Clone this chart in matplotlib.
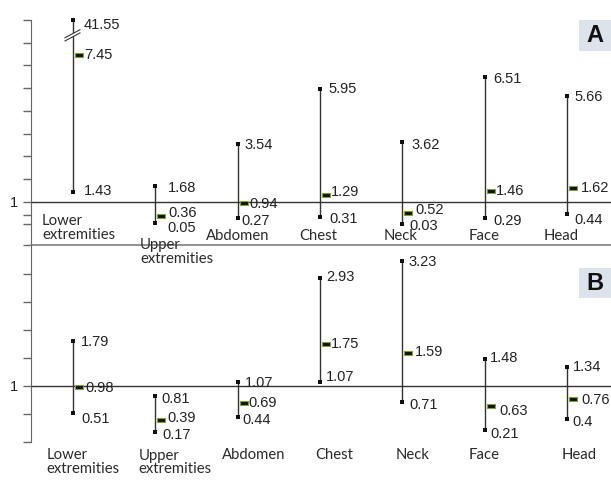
import matplotlib
matplotlib.use('Agg')
import matplotlib.pyplot as plt
import matplotlib.transforms as mtransforms
from matplotlib.path import Path
from matplotlib.patches import Polygon, Rectangle
from matplotlib.lines import Line2D
import numpy as np

regions = ['Lower\nextremities', 'Upper\nextremities', 'Abdomen', 'Chest', 'Neck', 'Face', 'Head']

# panel A: lower limit, median, upper limit
a_low = [1.43, 0.05, 0.27, 0.31, 0.03, 0.29, 0.44]
a_med = [7.45, 0.36, 0.94, 1.29, 0.52, 1.46, 1.62]
a_high = [41.55, 1.68, 3.54, 5.95, 3.62, 6.51, 5.66]

# panel B
b_low = [0.51, 0.17, 0.44, 1.07, 0.71, 0.21, 0.4]
b_med = [0.98, 0.39, 0.69, 1.75, 1.59, 0.63, 0.76]
b_high = [1.79, 0.81, 1.07, 2.93, 3.23, 1.48, 1.34]

# label nudges (dx, dy) in pixels, dy positive = down
nudge_a = {
    'high': [(11, 5), (12.7, 1.7), (7, 1.3), (9, 0), (9.3, 2.7), (9, 2), (8, 1)],
    'med': [(11, 0), (12.7, -3), (11.7, 1), (11, -3.3), (13, -2.7), (11, 0), (14, 0)],
    'low': [(11, -1), (11.7, 4.3), (4, 3), (9.7, 1.3), (7, 2.3), (9, 3.3), (8, 5.3)],
}
nudge_b = {
    'high': [(8, 0.7), (6, 2.6), (7, 1.3), (6, -0.7), (6.7, 1.7), (5.6, -0.7), (5.6, 0.7)],
    'med': [(12, 1), (12, -2), (11, 0), (11, 0), (12.7, -1), (15, 5), (14.3, 0.7)],
    'low': [(8, 5.7), (7, 2.7), (5, 3.4), (6, -5), (6.7, 3.3), (5.6, 4), (5.6, 2.7)],
}

# category label spots in pixels (x, y, ha)
cat_a = [(42, 228, 'left'), (140, 251.7, 'left'), (237.8, 236.5, 'center'), (318, 236.5, 'center'),
         (401, 236.5, 'center'), (484.5, 236.5, 'center'), (561, 236.5, 'center')]
cat_b = [(46.7, 462, 'left'), (138.3, 462.5, 'left'), (254, 455, 'center'), (334.5, 455, 'center'),
         (413, 455, 'center'), (484.5, 455, 'center'), (579, 455, 'center')]

W, H = 611, 493
NUMFONT = 'Liberation Sans'
CATFONT = 'Lato'
GREEN = '#7f9f38'
CAP_TOP = 9.0

fig = plt.figure(figsize=(W / 100, H / 100), dpi=100)
x0 = 31
axA = fig.add_axes([x0 / W, 1 - 245 / H, 1 - x0 / W, 225 / H])
axB = fig.add_axes([x0 / W, 1 - 441.7 / H, 1 - x0 / W, 196.7 / H])

# median marker: small bar sitting just right of the whisker
med_marker = Path([(0.15, -0.24), (1.0, -0.24), (1.0, 0.24), (0.15, 0.24), (0.15, -0.24)],
                  [Path.MOVETO, Path.LINETO, Path.LINETO, Path.LINETO, Path.CLOSEPOLY])

x = np.arange(len(regions))
xl = -(73 - 31) / 82.3

for ax in (axA, axB):
    ax.set_xlim(xl, xl + 580 / 82.3)
    ax.set_xticks([])
    ax.spines['top'].set_visible(False)
    ax.spines['right'].set_visible(False)
    ax.spines['left'].set_color('#666666')
    ax.tick_params(axis='y', direction='out', length=5.8, width=1, color='#666666',
                   pad=3.6, labelsize=10.5, labelcolor='#222222')
    ax.axhline(1, color='#333333', lw=1, zorder=1)
    ax.patch.set_visible(False)

axA.set_ylim(-0.907, CAP_TOP)
axA.set_yticks([-0.907, 0, 0.4] + list(range(1, 10)))
axA.set_yticklabels(['', '', '', '1'] + [''] * 8, family=NUMFONT)
axA.spines['bottom'].set_color('#888888')
axA.spines['bottom'].set_linewidth(1.3)

axB.set_ylim(0, 3.51)
axB.set_yticks(np.arange(0, 3.01, 0.5))
axB.set_yticklabels(['', '', '1', '', '', '', ''], family=NUMFONT)
axB.spines['bottom'].set_visible(False)


def draw_panel(ax, low, med, high, nudge):
    top = np.minimum(high, CAP_TOP)
    ax.vlines(x, low, top, color='#333333', lw=1, zorder=2)
    ax.plot(x, low, 's', ms=2.6, mew=0, color='#111111', zorder=3, clip_on=False)
    ax.plot(x, top, 's', ms=2.6, mew=0, color='#111111', zorder=3, clip_on=False)
    ax.plot(x, med, ls='none', marker=med_marker, ms=15, mfc='#111111', mec=GREEN,
            mew=0.8, zorder=4, clip_on=False)
    for key, vals, ys in (('high', high, top), ('med', med, med), ('low', low, low)):
        for i, (v, yv) in enumerate(zip(vals, ys)):
            dx, dy = nudge[key][i]
            ax.annotate(f'{v:g}', xy=(i, yv), xytext=(dx, -dy), textcoords='offset pixels',
                        ha='left', va='center', fontsize=10.5, family=NUMFONT,
                        color='#222222', annotation_clip=False, zorder=5)


draw_panel(axA, a_low, a_med, a_high, nudge_a)
draw_panel(axB, b_low, b_med, b_high, nudge_b)

# category labels
for spots in (cat_a, cat_b):
    for name, (px, py, ha) in zip(regions, spots):
        fig.text(px / W, 1 - py / H, name, ha=ha, va='center', fontsize=10.7,
                 family=CATFONT, color='#2a2a2a', linespacing=0.98)

# panel letters
for letter, ytop, ybot in (('A', 20, 51), ('B', 268, 298)):
    fig.patches.append(Rectangle((579 / W, 1 - ybot / H), 32 / W, (ybot - ytop) / H,
                                 transform=fig.transFigure, facecolor='#dde3ea',
                                 edgecolor='none'))
    fig.text(595 / W, 1 - (ytop + ybot) / 2 / H, letter, ha='center', va='center',
             fontsize=17, fontweight='bold', family=['Liberation Sans Narrow', NUMFONT],
             color='#111111')

# axis break on the clipped lower-extremities whisker
ybrk = (a_med[0] + CAP_TOP) / 2 + 0.1
cx, cy = axA.transData.transform((0, ybrk))
ident = mtransforms.IdentityTransform()
gap = 1.6
fig.patches.append(Polygon([(cx - 8, cy - 4 - gap), (cx + 7, cy + 4 - gap),
                            (cx + 7, cy + 4 + gap), (cx - 8, cy - 4 + gap)],
                           closed=True, facecolor='white', edgecolor='none',
                           transform=ident, zorder=10))
for s in (-gap, gap):
    fig.lines.append(Line2D([cx - 8, cx + 7], [cy - 4 + s, cy + 4 + s], color='#333333',
                            lw=0.8, transform=ident, zorder=11))

fig.savefig('out.png', dpi=100)
